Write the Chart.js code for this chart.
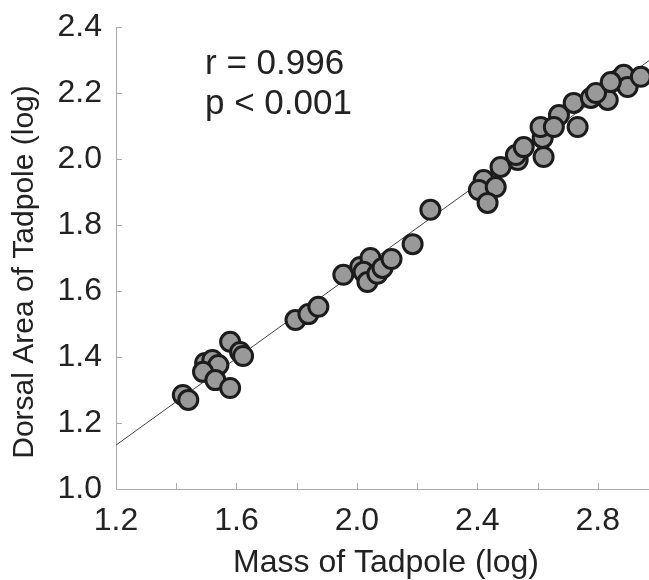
<!DOCTYPE html>
<html>
<head>
<meta charset="utf-8">
<script src="https://cdn.jsdelivr.net/npm/chart.js@4/dist/chart.umd.min.js"></script>
<style>
  html, body { margin: 0; padding: 0; background: #fff; }
  #wrap { width: 649px; height: 580px; }
</style>
</head>
<body>
<div id="wrap"><canvas id="c" width="649" height="580"></canvas></div>
<script>
// log mass vs log dorsal area, one entry per tadpole
const massLog = [
  1.422, 1.440, 1.579, 1.612, 1.622, 1.496, 1.520, 1.540, 1.489, 1.530, 1.579,
  1.796, 1.839, 1.872,
  1.955, 2.011, 2.045, 2.022, 2.035, 2.068, 2.085, 2.115, 2.185, 2.244,
  2.421, 2.405, 2.461, 2.434, 2.477, 2.534,
  2.528, 2.554, 2.620, 2.617, 2.610, 2.671, 2.654, 2.733, 2.720,
  2.777, 2.833, 2.794, 2.866, 2.886, 2.899, 2.943, 2.843
];
const areaLog = [
  1.285, 1.270, 1.446, 1.415, 1.403, 1.382, 1.391, 1.376, 1.355, 1.330, 1.306,
  1.512, 1.530, 1.552,
  1.649, 1.673, 1.700, 1.658, 1.627, 1.652, 1.670, 1.697, 1.742, 1.846,
  1.936, 1.906, 1.915, 1.867, 1.976, 1.997,
  2.012, 2.036, 2.006, 2.064, 2.097, 2.133, 2.097, 2.097, 2.170,
  2.185, 2.179, 2.200, 2.239, 2.255, 2.218, 2.249, 2.233
];

// fitted line end points
const fitX = [1.2, 2.97];
const fitY = [1.133, 2.298];

const xTicks = [1.2, 1.4, 1.6, 1.8, 2.0, 2.2, 2.4, 2.6, 2.8];
const xLabelled = [1.2, 1.6, 2.0, 2.4, 2.8];
const yTicks = [1.0, 1.2, 1.4, 1.6, 1.8, 2.0, 2.2, 2.4];

const statLines = ['r = 0.996', 'p < 0.001'];
const xTitle = 'Mass of Tadpole (log)';
const yTitle = 'Dorsal Area of Tadpole (log)';

const FONT = '"Liberation Sans", Arial, sans-serif';
const INK = '#222';

const scatter = massLog.map((x, i) => ({ x: x, y: areaLog[i] }));
const fit = fitX.map((x, i) => ({ x: x, y: fitY[i] }));

// inward tick marks, axis titles and the r/p text
const extras = {
  id: 'extras',
  afterDraw(chart) {
    const ctx = chart.ctx;
    const xs = chart.scales.x, ys = chart.scales.y;
    const area = chart.chartArea;
    ctx.save();
    ctx.strokeStyle = '#aaa';
    ctx.lineWidth = 1;
    xTicks.forEach(v => {
      const px = Math.round(xs.getPixelForValue(v)) + 0.5;
      ctx.beginPath();
      ctx.moveTo(px, area.bottom);
      ctx.lineTo(px, area.bottom - 6);
      ctx.stroke();
    });
    yTicks.forEach(v => {
      const py = Math.round(ys.getPixelForValue(v)) + 0.5;
      ctx.beginPath();
      ctx.moveTo(area.left, py);
      ctx.lineTo(area.left + 6, py);
      ctx.stroke();
    });

    ctx.fillStyle = INK;
    ctx.font = '32px ' + FONT;
    ctx.textAlign = 'center';
    ctx.textBaseline = 'alphabetic';
    ctx.fillText(xTitle, 386, 572);

    ctx.save();
    ctx.font = '30px ' + FONT;
    ctx.translate(33, 272);
    ctx.rotate(-Math.PI / 2);
    ctx.fillText(yTitle, 0, 0);
    ctx.restore();

    ctx.font = '35px ' + FONT;
    ctx.textAlign = 'left';
    ctx.fillText(statLines[0], 205, 74);
    ctx.fillText(statLines[1], 205, 114);
    ctx.restore();
  }
};

new Chart(document.getElementById('c'), {
  type: 'scatter',
  data: {
    datasets: [
      {
        data: scatter,
        backgroundColor: '#999',
        borderColor: '#1c1c1c',
        borderWidth: 3,
        pointRadius: 9.5,
        order: 1
      },
      {
        type: 'line',
        data: fit,
        borderColor: '#444',
        borderWidth: 1,
        pointRadius: 0,
        fill: false,
        order: 2
      }
    ]
  },
  options: {
    responsive: false,
    animation: false,
    events: [],
    layout: { autoPadding: false, padding: { top: 27, right: 0, left: 0, bottom: 0 } },
    plugins: { legend: { display: false }, tooltip: { enabled: false } },
    scales: {
      x: {
        type: 'linear',
        min: 1.2,
        max: 2.97,
        grid: { display: false },
        border: { display: true, color: '#aaa', width: 1 },
        afterBuildTicks(scale) { scale.ticks = xTicks.map(v => ({ value: v })); },
        afterFit(scale) {
          scale.height = 91;
          scale.paddingLeft = 0;
          scale.paddingRight = 0;
        },
        ticks: {
          autoSkip: false,
          maxRotation: 0,
          padding: 5,
          color: INK,
          font: { family: FONT, size: 32 },
          callback: v => xLabelled.some(t => Math.abs(t - v) < 1e-6) ? v.toFixed(1) : ''
        }
      },
      y: {
        type: 'linear',
        min: 1.0,
        max: 2.4,
        grid: { display: false },
        border: { display: true, color: '#aaa', width: 1 },
        afterBuildTicks(scale) { scale.ticks = yTicks.map(v => ({ value: v })); },
        afterFit(scale) {
          scale.width = 116;
          scale.paddingTop = 0;
          scale.paddingBottom = 0;
        },
        ticks: {
          autoSkip: false,
          padding: 6,
          color: INK,
          font: { family: FONT, size: 32 },
          callback: v => v.toFixed(1)
        }
      }
    }
  },
  plugins: [extras]
});
</script>
</body>
</html>
